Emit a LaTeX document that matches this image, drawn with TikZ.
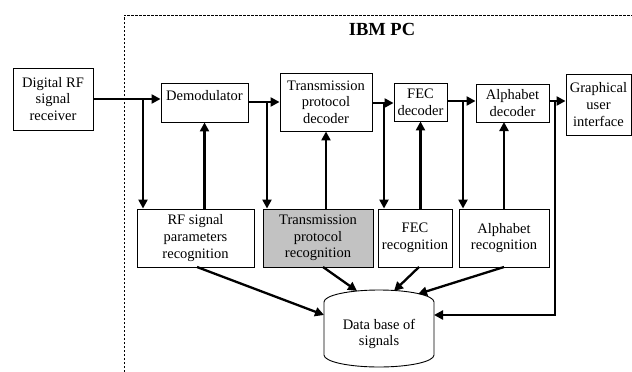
\documentclass[tikz,border=0pt]{standalone}
\usepackage{fontspec}
\setmainfont{Liberation Serif}
\usetikzlibrary{arrows.meta}
\begin{document}
\begin{tikzpicture}[x=1pt,y=-1pt,
  every node/.style={font=\fontsize{14.5}{16.7}\selectfont},
  box/.style={draw, line width=0.9pt, align=center, inner sep=1pt},
  conn/.style={line width=2.3pt},
  arr/.style={conn, -{Triangle[length=9pt,width=9pt]}},
  pcedge/.style={line width=0.9pt, dash pattern=on 2.5pt off 1.5pt}]
\useasboundingbox (0,0) rectangle (632,372);
% PC frame
\draw[pcedge] (124,372) -- (124,15) -- (632,15);
\node[font=\fontsize{18.5}{20}\selectfont\bfseries] (pc) at (382,29) {IBM PC};
% top row
\node[box, minimum width=80pt, minimum height=62pt] (recv) at (53,99) {Digital RF\\signal\\receiver};
\node[box, minimum width=87pt, minimum height=39pt, inner ysep=0pt, text height=17pt, text depth=22pt] (dem) at (204.5,102.5) {Demodulator};
\node[box, minimum width=92pt, minimum height=58pt] (tpd) at (326,102) {Transmission\\protocol\\decoder};
\node[box, minimum width=53pt, minimum height=38pt] (fec) at (420.5,102) {FEC\\decoder};
\node[box, minimum width=73pt, minimum height=38pt] (alpha) at (512.5,103) {Alphabet\\decoder};
\node[box, minimum width=65pt, minimum height=61pt] (gui) at (598.5,104.5) {Graphical\\user\\interface};
% bottom row
\node[box, minimum width=117pt, minimum height=58pt] (rf) at (195.5,238) {RF signal\\parameters\\recognition};
\node[box, fill=black!24, minimum width=110pt, minimum height=58pt] (tpr) at (318,238) {Transmission\\protocol\\recognition};
\node[box, minimum width=74pt, minimum height=58pt] (fecr) at (415,238) {FEC\\recognition};
\node[box, minimum width=90pt, minimum height=58pt] (alphar) at (504,238) {Alphabet\\recognition};
% database cylinder
\draw[line width=0.9pt] (324,302) arc[start angle=180,end angle=0,x radius=55pt,y radius=12pt]
  -- (434,355) arc[start angle=0,end angle=-180,x radius=55pt,y radius=12pt] -- cycle;
\node[align=center] (db) at (379,334) {Data base of\\signals};
\coordinate (dbl) at (324,315);
\coordinate (dbr) at (434,315);
\coordinate (dbt1) at (357,291);
\coordinate (dbt2) at (394,291);
\coordinate (dbt3) at (418,294);
% branch points
\coordinate (b1) at (143,99);
\coordinate (b2) at (267,102);
\coordinate (b3) at (384,103);
\coordinate (b4) at (463,101);
\coordinate (b5) at (555,101);
\coordinate (b5d) at (555,315);
% main chain
\draw[arr] (recv.east |- b1) -- (dem.west |- b1);
\draw[arr] (dem.east |- b2) -- (tpd.west |- b2);
\draw[arr] (tpd.east |- b3) -- (fec.west |- b3);
\draw[arr] (fec.east |- b4) -- (alpha.west |- b4);
\draw[arr] (alpha.east |- b5) -- (gui.west |- b5);
% branches down
\draw[arr] (b1) -- (b1 |- rf.north);
\draw[arr] (b2) -- (b2 |- tpr.north);
\draw[arr] (b3) -- (b3 |- fecr.north);
\draw[arr] (b4) -- (b4 |- alphar.north);
\draw[arr] (b5) -- (b5d) -- (dbr);
% feedback up
\draw[arr] (dem.south |- rf.north) -- (dem.south);
\draw[arr] (tpd.south |- tpr.north) -- (tpd.south);
\draw[arr] (fec.south |- fecr.north) -- (fec.south);
\draw[arr] (504,209) -- (504,122);
% to database
\draw[arr] (197,267) -- (dbl);
\draw[arr] (323,267) -- (dbt1);
\draw[arr] (419,267) -- (dbt2);
\draw[arr] (504,267) -- (dbt3);
\end{tikzpicture}
\end{document}
